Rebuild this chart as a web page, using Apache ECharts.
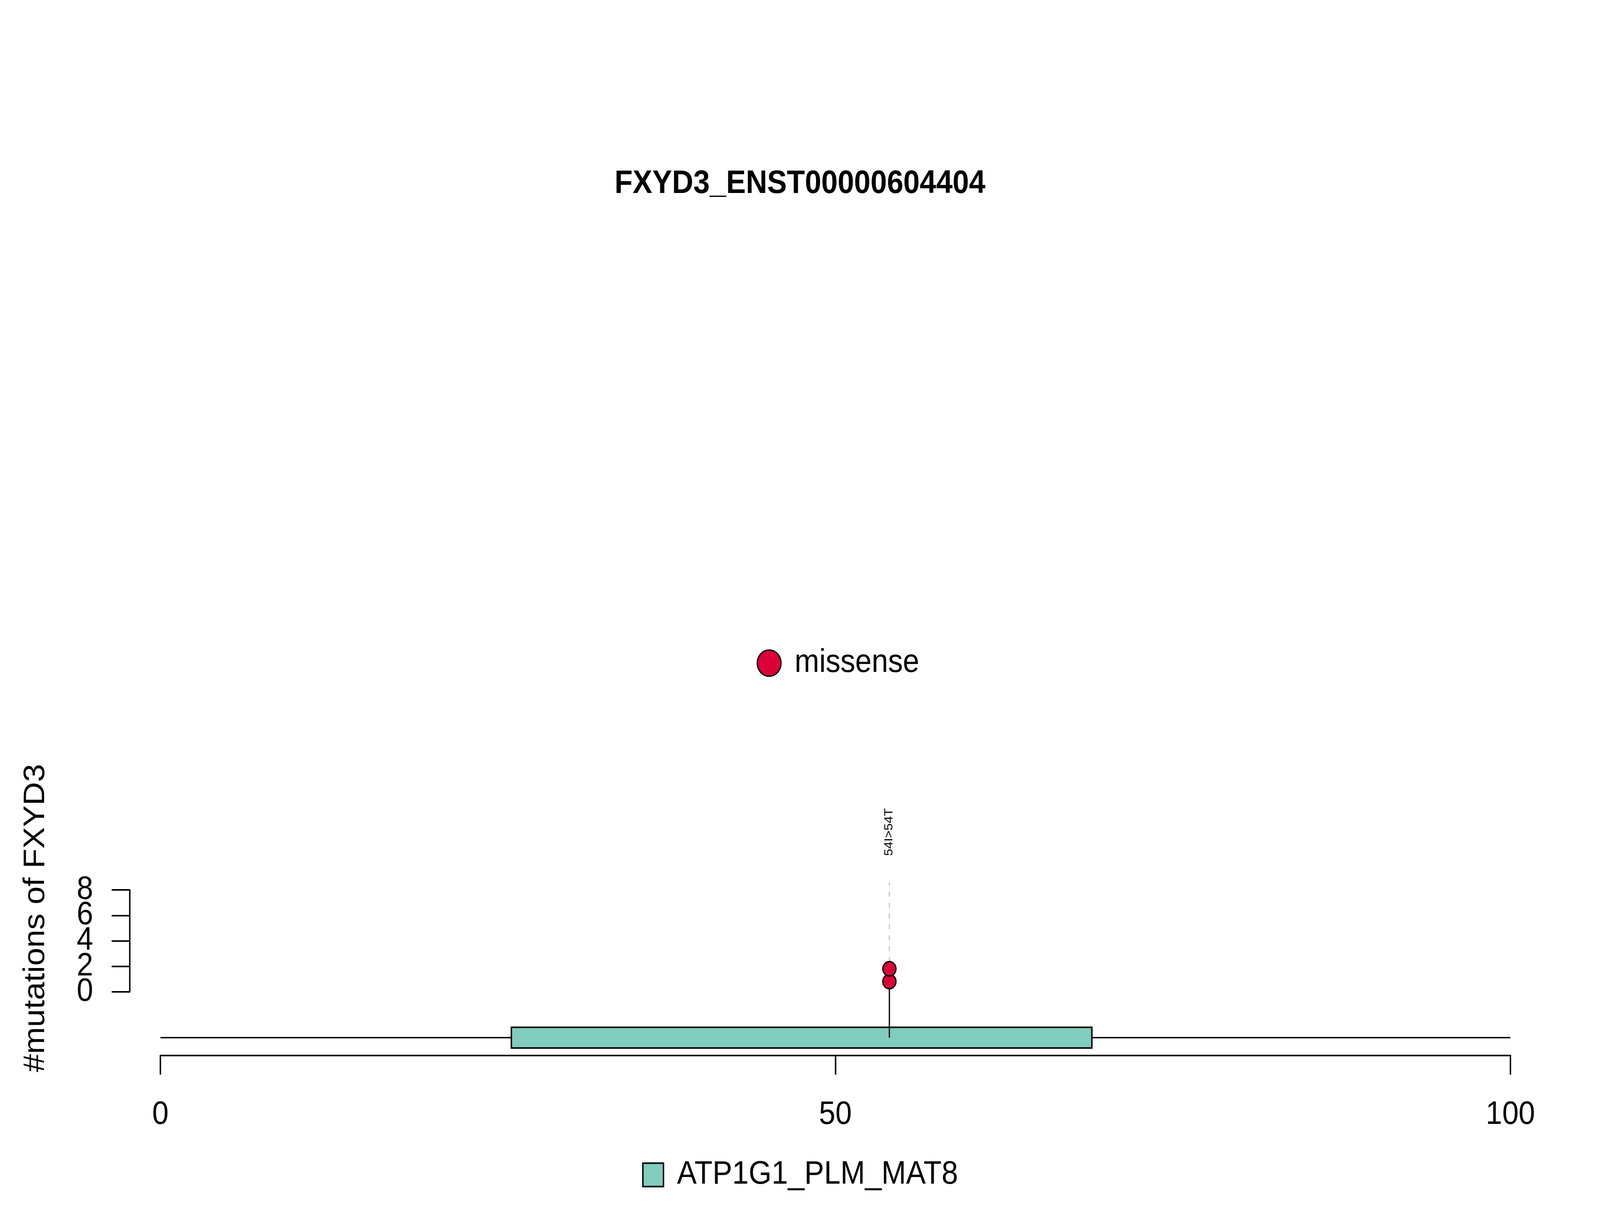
<!DOCTYPE html>
<html><head><meta charset="utf-8">
<script src="https://cdn.jsdelivr.net/npm/echarts@6/dist/echarts.min.js"></script>
<style>html,body{margin:0;padding:0;background:#fff;overflow:hidden}#c{width:4500px;height:3100px;transform-origin:0 0}</style>
</head><body><div id="c"></div>
<script>
// ---------------- data ----------------
const titleText = 'FXYD3_ENST00000604404';
const yAxisTitle = '#mutations of FXYD3';
const proteinRange = [0, 100];
const xTicks = [0, 50, 100];
const yTicks = [0, 2, 4, 6, 8];
const domainNames = ['ATP1G1_PLM_MAT8'];
const domainStart = [26];
const domainEnd = [69];
const mutationLabels = ['54I>54T'];
const mutationPos = [54];
const mutationType = 'missense';
const circleHeights = [0.8, 1.8]; // stacked circles of the mutation at 54

// ---------------- layout/style constants ----------------
const FONT = 'Liberation Sans';
const RED = '#DC0039';
const TEAL = '#80CDBE';
const TRACK_Y = -3.6;   // backbone height in y units
const BOX_H = 53;       // domain box height px
const DASH_TOP = 8.55;
const LABEL_Y = 10.65;
const R = 18.5;
const YAXIS_X = 365, YLABEL_GAP = 103;

// fit the 4500x3100 drawing into the actual window
const el = document.getElementById('c');
const fx = window.innerWidth / 4500, fy = window.innerHeight / 3100;
el.style.transform = 'scale(' + fx + ',' + fy + ')';

const chart = echarts.init(el, null, {renderer: 'canvas'});

const option = {
  backgroundColor: '#fff',
  animation: false,
  textStyle: {fontFamily: FONT},
  title: {
    text: titleText, left: 'center', top: 430, padding: 0,
    textStyle: {fontFamily: FONT, fontWeight: 'bold', fontSize: 83, color: '#000'}
  },
  legend: [
    {
      left: 2128, top: 1656, padding: 0, itemWidth: 67, itemHeight: 67,
      data: [{name: mutationType, icon: 'circle', itemStyle: {color: RED, borderColor: '#000', borderWidth: 3.5}}],
      textStyle: {fontFamily: FONT, fontSize: 83, color: '#000', padding: [0, 0, 0, 33]},
      selectedMode: false
    },
    {
      left: 1806, top: 2966, padding: 0, itemWidth: 58, itemHeight: 60,
      data: [{name: domainNames[0], icon: 'rect', itemStyle: {color: TEAL, borderColor: '#000', borderWidth: 4}}],
      textStyle: {fontFamily: FONT, fontSize: 83, color: '#000', padding: [0, 0, 0, 33]},
      selectedMode: false
    }
  ],
  grid: [
    {left: 451, right: 252, top: 2147, bottom: 398, containLabel: false},
    {left: YAXIS_X, width: 10, top: 2278, height: 261, containLabel: false}
  ],
  xAxis: [
    {
      gridIndex: 0, type: 'value', min: proteinRange[0], max: proteinRange[1],
      interval: 50, position: 'bottom',
      axisLine: {show: true, onZero: false, lineStyle: {color: '#000', width: 4}},
      axisTick: {show: true, length: 49, lineStyle: {color: '#000', width: 4}},
      axisLabel: {show: true, margin: 111, fontSize: 83, color: '#000', fontFamily: FONT,
        showMinLabel: true, showMaxLabel: true, hideOverlap: false,
        formatter: v => xTicks.includes(v) ? String(v) : ''},
      splitLine: {show: false}
    },
    {gridIndex: 1, type: 'value', show: false, min: 0, max: 1}
  ],
  yAxis: [
    {gridIndex: 0, type: 'value', show: false, min: -5, max: 12},
    {
      gridIndex: 1, type: 'value', min: 0, max: 8, interval: 2, position: 'left',
      axisLine: {show: true, onZero: false, lineStyle: {color: '#000', width: 4}},
      axisTick: {show: true, length: 51, lineStyle: {color: '#000', width: 4}},
      axisLabel: {show: false},
      splitLine: {show: false}
    }
  ],
  graphic: [{
    id: 'ytitle', type: 'text', x: 101, y: 2350, rotation: Math.PI / 2,
    style: {text: yAxisTitle, fontFamily: FONT, fontSize: 83, fill: '#000', align: 'center', verticalAlign: 'middle'}
  }],
  series: [
    { // backbone
      type: 'custom', name: 'backbone', xAxisIndex: 0, yAxisIndex: 0, z: 1,
      data: [[proteinRange[0], proteinRange[1]]],
      renderItem: (params, api) => {
        const a = api.coord([api.value(0), TRACK_Y]);
        const b = api.coord([api.value(1), TRACK_Y]);
        return {type: 'line', shape: {x1: a[0], y1: a[1], x2: b[0], y2: b[1]},
          style: {stroke: '#000', lineWidth: 3.5}};
      }
    },
    { // domain
      type: 'custom', name: domainNames[0], xAxisIndex: 0, yAxisIndex: 0, z: 2,
      itemStyle: {color: TEAL, borderColor: '#000', borderWidth: 4},
      data: domainStart.map((s, i) => [s, domainEnd[i]]),
      renderItem: (params, api) => {
        const a = api.coord([api.value(0), TRACK_Y]);
        const b = api.coord([api.value(1), TRACK_Y]);
        return {type: 'rect', shape: {x: a[0], y: a[1] - BOX_H / 2, width: b[0] - a[0], height: BOX_H},
          style: {fill: TEAL, stroke: '#000', lineWidth: 4}};
      }
    },
    { // stem, dashed guide and label
      type: 'custom', name: 'stem', xAxisIndex: 0, yAxisIndex: 0, z: 3,
      data: mutationPos.map((p, i) => [p, Math.min(...circleHeights), Math.max(...circleHeights), i]),
      renderItem: (params, api) => {
        const base = api.coord([api.value(0), TRACK_Y]);
        const lo = api.coord([api.value(0), api.value(1)]);
        const hi = api.coord([api.value(0), api.value(2)]);
        const dt = api.coord([api.value(0), DASH_TOP]);
        const lb = api.coord([api.value(0), LABEL_Y]);
        return {type: 'group', children: [
          {type: 'line', shape: {x1: base[0], y1: base[1], x2: lo[0], y2: lo[1] + R},
            style: {stroke: '#000', lineWidth: 3.5}},
          {type: 'line', shape: {x1: hi[0], y1: hi[1] - R, x2: dt[0], y2: dt[1]},
            style: {stroke: '#C8C8C8', lineWidth: 3.5, lineDash: [10, 18], lineCap: 'round'}},
          {type: 'text', x: lb[0], y: lb[1], rotation: Math.PI / 2,
            style: {text: mutationLabels[api.value(3)], fontFamily: FONT, fontSize: 33, fill: '#000',
              align: 'left', verticalAlign: 'middle'}}
        ]};
      }
    },
    {
      type: 'scatter', name: mutationType, xAxisIndex: 0, yAxisIndex: 0, z: 5,
      symbol: 'circle', symbolSize: 37,
      itemStyle: {color: RED, borderColor: '#000', borderWidth: 3.5, opacity: 1},
      data: circleHeights.map(h => [mutationPos[0], h])
    }
  ]
};
chart.setOption(option);

// y tick labels (overlapping, as in the original), placed through the y axis scale
const yLabelGraphics = yTicks.map((v, i) => {
  const py = chart.convertToPixel({yAxisIndex: 1}, v);
  return {
    id: 'ylab' + i, type: 'text', x: YAXIS_X - YLABEL_GAP, y: py, z: 10,
    style: {text: String(v), fontFamily: FONT, fontSize: 83, fill: '#000', align: 'right', verticalAlign: 'middle'}
  };
});
chart.setOption({graphic: yLabelGraphics});
</script></body></html>
